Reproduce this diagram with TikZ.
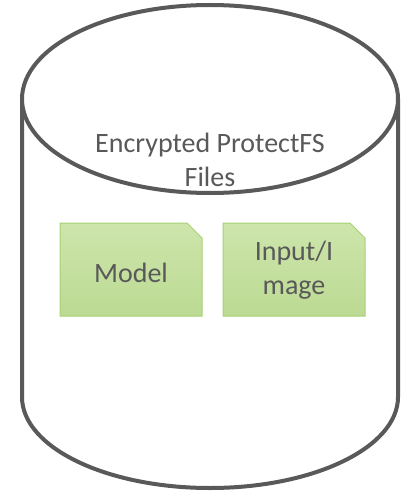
\documentclass[tikz,border=0pt]{standalone}
\usepackage{fontspec}
\setmainfont{Carlito}
\definecolor{edge}{HTML}{595959}
\definecolor{txt}{HTML}{595959}
\definecolor{gtop}{HTML}{CDE5AB}
\definecolor{gbot}{HTML}{BCDA93}
\definecolor{gline}{HTML}{A8D172}
\tikzset{
  cyl/.style={draw=edge, line width=4pt},
  filebox/.style={draw=gline, line width=1pt, top color=gtop, bottom color=gbot},
  lbl/.style={text=txt, font=\fontsize{28}{34}\selectfont, align=center}
}
\begin{document}
\begin{tikzpicture}[x=1pt,y=-1pt]
\useasboundingbox (0,0) rectangle (404,492);
% cylinder body
\draw[cyl] (22,99) -- (22,397) arc[start angle=180, end angle=0, x radius=188, y radius=91] -- (398,99);
\draw[cyl, fill=white] (210,99) ellipse [x radius=188, y radius=94];
\node[lbl] (title) at (210,160) {Encrypted ProtectFS\\Files};
% file boxes
\path[filebox] (60,223) -- (187,223) -- (202,238) -- (202,316) -- (60,316) -- cycle;
\path[filebox] (223,223) -- (350,223) -- (365,238) -- (365,316) -- (223,316) -- cycle;
\node[lbl] (model) at (131,273) {Model};
\node[lbl] (input) at (294,270) {Input/I\\mage};
\end{tikzpicture}
\end{document}
